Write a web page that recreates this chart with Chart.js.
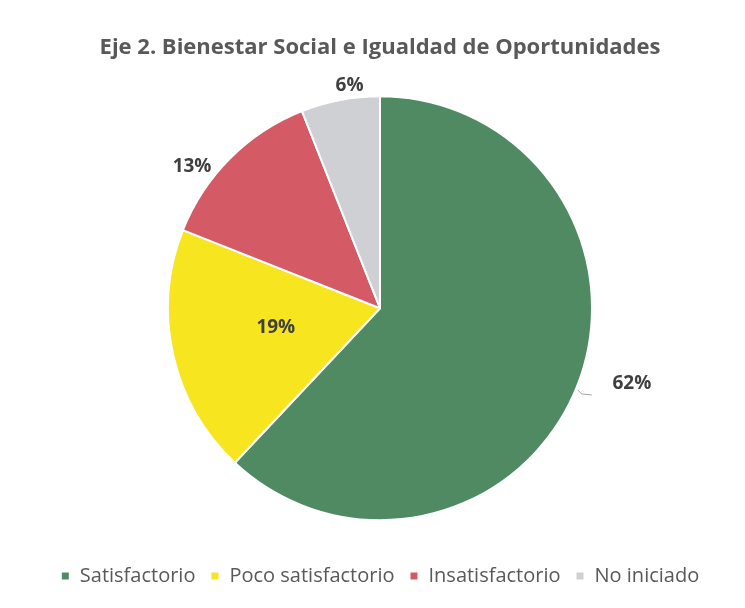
<!DOCTYPE html>
<html>
<head>
<meta charset="utf-8">
<script src="https://cdn.jsdelivr.net/npm/chart.js@4.4.0/dist/chart.umd.min.js"></script>
<style>
  html, body { margin: 0; padding: 0; background: #fff; }
  #wrap { width: 745px; height: 608px; }
</style>
</head>
<body>
<div id="wrap"><canvas id="myChart" width="745" height="608"></canvas></div>
<script>
// Eje 2 pie chart
var labels = ['Satisfactorio', 'Poco satisfactorio', 'Insatisfactorio', 'No iniciado'];
var values = [62, 19, 13, 6];
var colors = ['#4f8a62', '#f7e51f', '#d45a66', '#cfd0d4'];

// where each percentage label sits: radius factor and angle nudge (degrees)
var labelPos = [
    { r: 1.24, a: -5, line: true },
    { r: 0.5, a: 2, line: false },
    { r: 1.11, a: -8, line: false },
    { r: 1.06, a: 3, line: false }
];

const pctLabels = {
    id: 'pctLabels',
    afterDatasetsDraw(chart) {
        const ctx = chart.ctx;
        const meta = chart.getDatasetMeta(0);
        ctx.save();
        ctx.font = 'bold 19px "Open Sans", sans-serif';
        ctx.fillStyle = '#404040';
        ctx.textAlign = 'center';
        ctx.textBaseline = 'middle';
        meta.data.forEach(function(arc, i) {
            const p = arc.getProps(['x', 'y', 'startAngle', 'endAngle', 'outerRadius']);
            const mid = (p.startAngle + p.endAngle) / 2 + labelPos[i].a * Math.PI / 180;
            const rr = p.outerRadius * labelPos[i].r;
            const x = p.x + Math.cos(mid) * rr;
            const y = p.y + Math.sin(mid) * rr;
            if (labelPos[i].line) {
                // small leader line like excel
                const m0 = (p.startAngle + p.endAngle) / 2 + 0.015;
                const x0 = p.x + Math.cos(m0) * (p.outerRadius + 2);
                const y0 = p.y + Math.sin(m0) * (p.outerRadius + 2);
                ctx.strokeStyle = '#a6a6a6';
                ctx.lineWidth = 1;
                ctx.beginPath();
                ctx.moveTo(x0, y0);
                ctx.lineTo(x0 + 4, y0 + 4);
                ctx.lineTo(x0 + 14, y0 + 5);
                ctx.stroke();
            }
            ctx.fillText(values[i] + '%', x, y);
        });
        ctx.restore();
    }
};

const ctx = document.getElementById('myChart');
new Chart(ctx, {
    type: 'pie',
    data: {
        labels: labels,
        datasets: [{
            data: values,
            backgroundColor: colors,
            borderColor: '#ffffff',
            borderWidth: 2,
            radius: 212
        }]
    },
    options: {
        responsive: false,
        animation: false,
        layout: { padding: { top: 0, bottom: 12, left: 15, right: 0 } },
        plugins: {
            title: {
                display: true,
                text: 'Eje 2. Bienestar Social e Igualdad de Oportunidades',
                color: '#595959',
                font: { family: '"Open Sans", sans-serif', size: 22, weight: 'bold' },
                padding: { top: 35, bottom: 4 }
            },
            legend: {
                position: 'bottom',
                labels: {
                    color: '#595959',
                    font: { family: '"Open Sans", sans-serif', size: 20 },
                    boxWidth: 9,
                    boxHeight: 9,
                    padding: 15
                }
            },
            tooltip: { enabled: false }
        }
    },
    plugins: [pctLabels]
});
</script>
</body>
</html>
